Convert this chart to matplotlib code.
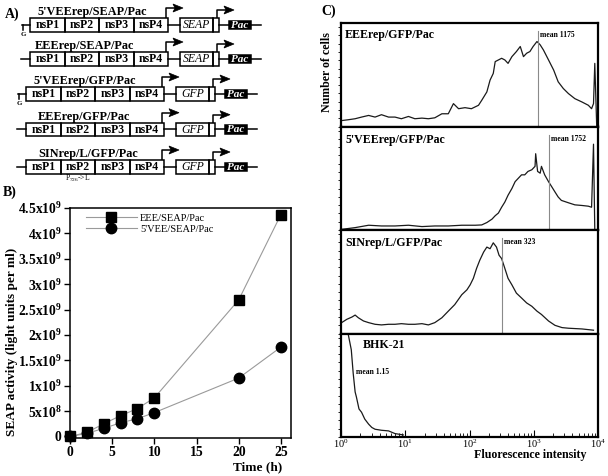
import matplotlib
matplotlib.use('Agg')
import matplotlib.pyplot as plt
import numpy as np
from matplotlib.patches import Rectangle, Polygon

plt.rcParams['font.family'] = ['Liberation Serif', 'DejaVu Serif']
plt.rcParams['mathtext.fontset'] = 'custom'
plt.rcParams['mathtext.rm'] = 'Liberation Serif'
plt.rcParams['mathtext.it'] = 'Liberation Serif:italic'
plt.rcParams['mathtext.bf'] = 'Liberation Serif:bold'

# ---- panel A: replicon constructs
construct_names = ["5'VEErep/SEAP/Pac", "EEErep/SEAP/Pac", "5'VEErep/GFP/Pac",
                   "EEErep/GFP/Pac", "SINrep/L/GFP/Pac"]
reporters = ['SEAP', 'SEAP', 'GFP', 'GFP', 'GFP']
has_cap = [True, False, True, False, False]
nsp_names = ['nsP1', 'nsP2', 'nsP3', 'nsP4']
mutation_note = r'P$_{726}$->L'

# ---- panel B: SEAP activity
time_h = [0, 2, 4, 6, 8, 10, 20, 25]
eee_seap = [0, 0.08e9, 0.25e9, 0.41e9, 0.55e9, 0.76e9, 2.69e9, 4.37e9]
vee_seap = [0, 0.06e9, 0.16e9, 0.27e9, 0.35e9, 0.47e9, 1.15e9, 1.76e9]
seap_ticks = [0, 5e8, 1e9, 1.5e9, 2e9, 2.5e9, 3e9, 3.5e9, 4e9, 4.5e9]
seap_ticklabels = ['0', r'5x10$^{\mathbf{8}}$', r'1x10$^{\mathbf{9}}$', r'1.5x10$^{\mathbf{9}}$',
                   r'2x10$^{\mathbf{9}}$', r'2.5x10$^{\mathbf{9}}$', r'3x10$^{\mathbf{9}}$',
                   r'3.5x10$^{\mathbf{9}}$', r'4x10$^{\mathbf{9}}$', r'4.5x10$^{\mathbf{9}}$']
time_ticks = [0, 5, 10, 15, 20, 25]

# ---- panel C: FACS histograms (log10 intensity, % of panel height)
eee_log = [0.02, 0.11, 0.22, 0.32, 0.43, 0.53, 0.63, 0.74, 0.84, 0.94, 1.05, 1.15, 1.26,
           1.36, 1.46, 1.57, 1.67, 1.75, 1.83, 1.93, 2.03, 2.14, 2.19, 2.27, 2.32, 2.37,
           2.40, 2.45, 2.50, 2.55, 2.60, 2.66, 2.73, 2.79, 2.84, 2.89, 2.94, 2.99, 3.05,
           3.10, 3.15, 3.23, 3.31, 3.38, 3.46, 3.54, 3.64, 3.75, 3.85, 3.90, 3.93, 3.95, 3.98]
eee_cnt = [5.8, 6.5, 7.5, 9.1, 10.7, 9.1, 11.4, 9.1, 9.1, 7.5, 9.7, 7.5, 8.1,
           7.5, 8.4, 12.3, 12.3, 22.1, 17.2, 18.2, 17.2, 20.5, 25.3, 33.4, 44.8, 51.3,
           62.7, 64.3, 65.9, 64.3, 61.0, 67.5, 72.4, 77.3, 67.5, 70.8, 72.4, 77.3, 82.1,
           78.9, 74.0, 64.3, 54.5, 43.2, 36.7, 31.8, 26.9, 23.7, 20.5, 17.2, 22.1, 61.0, 0]
vee_log = [0.02, 0.22, 0.43, 0.63, 0.84, 1.05, 1.26, 1.46, 1.67, 1.88, 2.09, 2.19, 2.27,
           2.35, 2.40, 2.45, 2.50, 2.55, 2.60, 2.66, 2.71, 2.76, 2.81, 2.86, 2.91, 2.97,
           3.02, 3.03, 3.06, 3.10, 3.12, 3.17, 3.23, 3.28, 3.33, 3.38, 3.43, 3.54, 3.64,
           3.75, 3.85, 3.90, 3.93, 3.95]
vee_cnt = [0.7, 2.3, 4.6, 3.9, 3.9, 4.6, 3.3, 3.9, 3.9, 4.6, 4.6, 4.9, 7.2,
           10.5, 13.8, 16.4, 22.0, 27.0, 33.6, 40.1, 46.7, 50.0, 53.3, 53.3, 56.6, 58.2,
           61.5, 73.7, 56.6, 54.9, 61.5, 53.3, 46.7, 41.8, 36.8, 31.9, 28.6, 26.3, 24.3,
           23.7, 23.0, 22.0, 82.9, 0]
sin_log = [0.01, 0.09, 0.17, 0.22, 0.27, 0.35, 0.43, 0.53, 0.63, 0.74, 0.84, 0.94, 1.05,
           1.15, 1.26, 1.36, 1.46, 1.57, 1.67, 1.77, 1.88, 1.96, 2.01, 2.06, 2.11, 2.16,
           2.22, 2.27, 2.32, 2.37, 2.42, 2.46, 2.50, 2.55, 2.60, 2.66, 2.73, 2.81, 2.89,
           2.97, 3.05, 3.12, 3.23, 3.33, 3.44, 3.54, 3.75, 3.93]
sin_cnt = [10.5, 13.7, 15.9, 17.8, 15.2, 12.1, 10.5, 8.9, 8.3, 8.9, 8.9, 9.5, 8.9,
           8.9, 9.5, 8.3, 10.5, 15.2, 21.6, 27.9, 37.5, 42.2, 47.0, 53.3, 62.9, 70.8,
           78.7, 83.5, 81.9, 87.6, 83.5, 75.6, 72.4, 62.9, 53.3, 47.0, 39.0, 34.3, 29.5,
           26.3, 21.6, 18.4, 12.1, 7.9, 5.7, 5.1, 4.4, 3.2]
bhk_log = [0.01, 0.11, 0.16, 0.19, 0.22, 0.24, 0.28, 0.32, 0.37, 0.43, 0.48, 0.53,
           0.63, 0.74, 0.84, 0.97]
bhk_cnt = [100, 100, 84.3, 61.4, 43.5, 38.6, 27.1, 23.9, 17.3, 12.4, 9.2, 7.5,
           6.5, 5.9, 3.3, 2.0]
hist_names = ['EEErep/GFP/Pac', "5'VEErep/GFP/Pac", 'SINrep/L/GFP/Pac', 'BHK-21']
hist_means = [1175, 1752, 323, 1.15]
hist_logs = [eee_log, vee_log, sin_log, bhk_log]
hist_cnts = [eee_cnt, vee_cnt, sin_cnt, bhk_cnt]


def promoter(ax, x, top, hgt, length):
    yt = top - hgt
    ax.plot([x, x, x + length], [top, yt, yt], color='k', lw=1.1, solid_capstyle='butt')
    xh = x + length
    ax.add_patch(Polygon([(xh - 2, yt - 4), (xh + 8, yt), (xh - 2, yt + 4), (xh, yt)],
                         closed=True, fc='k', ec='k', lw=0.5))


def draw_construct(ax, name, reporter, cap, x0, top, tx, note=None):
    h = 13.5
    w = 34.5
    mid = top + h / 2
    lw = 1.1
    if cap:
        ax.plot([x0 - 8, x0], [mid, mid], color='k', lw=lw)
        ax.plot([x0 - 7, x0 - 7], [mid, mid + 5], color='k', lw=lw)
        ax.text(x0 - 7, mid + 10, 'G', fontsize=5, ha='center', va='center', weight='bold')
    else:
        ax.plot([x0 - 9, x0], [mid, mid], color='k', lw=lw)
    for i, nm in enumerate(nsp_names):
        ax.add_patch(Rectangle((x0 + i * w, top), w, h, fill=False, ec='k', lw=lw))
        ax.text(x0 + i * w + w / 2, mid + 0.5, nm, fontsize=8.5, weight='bold',
                ha='center', va='center')
    xe = x0 + 4 * w
    ax.plot([xe, xe + 12], [mid, mid], color='k', lw=lw)
    r0 = xe + 12
    ax.add_patch(Rectangle((r0, top), 33, h, fill=False, ec='k', lw=lw))
    ax.text(r0 + 16.5, mid + 0.5, reporter, fontsize=8.5, style='italic',
            ha='center', va='center')
    ax.add_patch(Rectangle((r0 + 33, top), 5.5, h, fill=False, ec='k', lw=lw))
    s1 = r0 + 38.5
    ax.plot([s1, s1 + 10], [mid, mid], color='k', lw=lw)
    p0 = s1 + 10
    ax.add_patch(Rectangle((p0, top + 2.5), 22, h - 5, fc='k', ec='k', lw=lw))
    ax.text(p0 + 11, mid + 0.5, 'Pac', fontsize=8, color='white', weight='bold',
            style='italic', ha='center', va='center')
    ax.plot([p0 + 22, p0 + 32], [mid, mid], color='k', lw=lw)
    promoter(ax, xe - 2, top, 10, 9)
    promoter(ax, r0 + 37, top, 8, 9)
    ax.text(tx, top - 6, name, fontsize=8.8, weight='bold', ha='left', va='center')
    if note:
        ax.text(x0 + 1.5 * w, top + h + 5, note, fontsize=5.5, ha='center', va='center')


fig = plt.figure(figsize=(6.08, 4.76), dpi=100)

ov = fig.add_axes([0, 0, 1, 1])
ov.set_xlim(0, 608)
ov.set_ylim(476, 0)
ov.axis('off')

box_tops = [18, 52, 87, 122.7, 160]
box_x0 = [30, 30, 26, 26, 26]
title_x = [38, 35, 33, 38, 38]
for i in range(5):
    draw_construct(ov, construct_names[i], reporters[i], has_cap[i], box_x0[i],
                   box_tops[i], title_x[i], mutation_note if i == 4 else None)

ov.text(5, 14, 'A)', fontsize=10, weight='bold', ha='left', va='center')
ov.text(3, 192, 'B)', fontsize=10, weight='bold', ha='left', va='center')
ov.text(321, 11, 'C)', fontsize=10, weight='bold', ha='left', va='center')

# ---- panel B
axb = fig.add_axes([70 / 608, 1 - 438 / 476, 221 / 608, 230 / 476])
axb.plot(time_h, eee_seap, color='#9a9a9a', lw=0.8, marker='s', ms=6.5,
         mfc='k', mec='k', clip_on=False, label='EEE/SEAP/Pac', zorder=3)
axb.plot(time_h, vee_seap, color='#9a9a9a', lw=0.8, marker='o', ms=7.5,
         mfc='k', mec='k', clip_on=False, label="5'VEE/SEAP/Pac", zorder=3)
axb.set_xlim(0.2, 26.2)
axb.set_ylim(-0.03e9, 4.5e9)
axb.set_yticks(seap_ticks)
axb.set_yticklabels(seap_ticklabels)
axb.set_xticks(time_ticks)
axb.tick_params(direction='out', length=4, width=1, labelsize=9.8, pad=2)
for lab in axb.get_xticklabels() + axb.get_yticklabels():
    lab.set_fontweight('bold')
for sp in axb.spines.values():
    sp.set_linewidth(1.1)
axb.set_ylabel('SEAP activity (light units per ml)', fontsize=9.5, weight='bold')
axb.yaxis.set_label_coords(-0.235, 0.417)
axb.set_xlabel('Time (h)', fontsize=9.5, weight='bold', ha='right', va='center')
axb.xaxis.set_label_coords(0.959, -0.126)
axb.legend(loc='upper left', bbox_to_anchor=(0.072, 0.975), frameon=False,
           fontsize=7.5, handlelength=4.9, handletextpad=0.3, labelspacing=0.15,
           borderpad=0, borderaxespad=0)

# ---- panel C
c_tops = [23, 126.5, 230, 333.5]
c_h = 103.5
name_pos = [(0.016, 0.88), (0.016, 0.87), (0.016, 0.875), (0.086, 0.89)]
axes_c = []
for k in range(4):
    ax = fig.add_axes([341 / 608, 1 - (c_tops[k] + c_h) / 476, 257 / 608, c_h / 476])
    ax.plot(10 ** np.array(hist_logs[k]), hist_cnts[k], color='#1a1a1a', lw=0.9)
    ax.set_xscale('log')
    ax.set_xlim(1, 1e4)
    ax.set_ylim(0, 100)
    ax.set_yticks(np.arange(0, 101, 8))
    ax.tick_params(axis='y', direction='out', length=2.5, width=0.6, labelleft=False)
    for sp in ax.spines.values():
        sp.set_linewidth(1.6)
    ax.text(name_pos[k][0], name_pos[k][1], hist_names[k], transform=ax.transAxes,
            fontsize=8.6, weight='bold', ha='left', va='center')
    if k < 3:
        ax.axvline(hist_means[k], ymin=0, ymax=0.92, color='#8a8a8a', lw=0.8)
        ax.text(hist_means[k] * 1.05, 0.88, 'mean %g' % hist_means[k],
                transform=ax.get_xaxis_transform(), fontsize=5.5, weight='bold',
                ha='left', va='center')
    else:
        ax.text(1.7, 0.63, 'mean %g' % hist_means[k], transform=ax.get_xaxis_transform(),
                fontsize=5.5, weight='bold', ha='left', va='center')
    if k < 3:
        ax.tick_params(axis='x', which='both', bottom=False, labelbottom=False)
    else:
        ax.set_xticks([1, 10, 100, 1000, 10000])
        ax.set_xticklabels([r'$10^{0}$', r'$10^{1}$', r'$10^{2}$', r'$10^{3}$', r'$10^{4}$'])
        ax.tick_params(axis='x', which='major', direction='in', length=5, width=0.8,
                       labelsize=7.5, pad=0.5)
        ax.tick_params(axis='x', which='minor', direction='in', length=3, width=0.6)
    axes_c.append(ax)

axes_c[0].set_ylabel('Number of cells', fontsize=8.6, weight='bold')
axes_c[0].yaxis.set_label_coords(-0.031, 0.524)
axes_c[3].set_xlabel('Fluorescence intensity', fontsize=8.6, weight='bold',
                     ha='right', va='center')
axes_c[3].xaxis.set_label_coords(0.957, -0.175)

fig.savefig('out.png', dpi=100)
